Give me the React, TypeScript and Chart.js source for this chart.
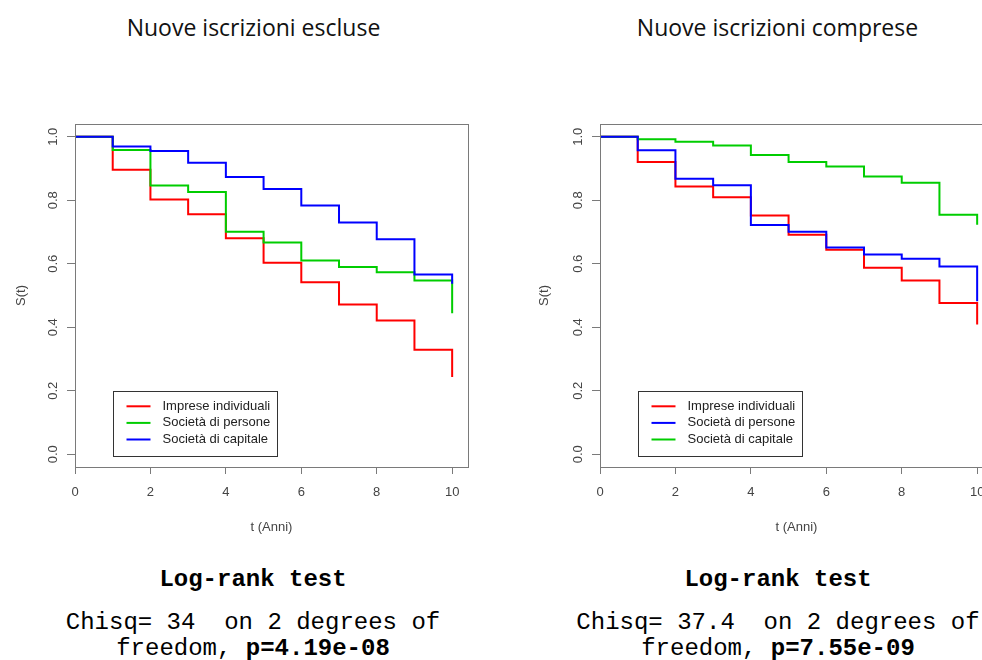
import React, { useEffect, useRef } from "react";
import { Chart, registerables } from "chart.js";

Chart.register(...registerables);

// Survival time grid (years) and Kaplan–Meier step values at each year
const years = [0, 1, 2, 3, 4, 5, 6, 7, 8, 9, 10];

// Nuove iscrizioni escluse
const esclImprese = [1.0, 0.896, 0.802, 0.756, 0.68, 0.603, 0.542, 0.472, 0.421, 0.329, 0.243];
const esclPersone = [1.0, 0.958, 0.846, 0.826, 0.701, 0.667, 0.61, 0.59, 0.573, 0.547, 0.444];
const esclCapitale = [1.0, 0.969, 0.955, 0.918, 0.873, 0.835, 0.783, 0.73, 0.677, 0.566, 0.537];

// Nuove iscrizioni comprese
const compImprese = [1.0, 0.92, 0.843, 0.809, 0.752, 0.691, 0.644, 0.587, 0.547, 0.476, 0.409];
const compPersone = [1.0, 0.957, 0.868, 0.847, 0.722, 0.701, 0.651, 0.629, 0.616, 0.591, 0.482];
const compCapitale = [1.0, 0.992, 0.984, 0.972, 0.942, 0.92, 0.906, 0.875, 0.855, 0.754, 0.723];

const groupLabels = ["Imprese individuali", "Società di persone", "Società di capitale"];
const xTicks = [0, 2, 4, 6, 8, 10];
const yTicks = [0, 0.2, 0.4, 0.6, 0.8, 1.0];

const RED = "#ff0000";
const GREEN = "#00cd00";
const BLUE = "#0000ff";
const AXIS = "#7a7a7a";
const TEXT = "#444444";
const SANS = "'Liberation Sans', Arial, sans-serif";
const MONO = "'Liberation Mono', 'Courier New', monospace";

// Frame around the plotting region plus an R-style boxed legend anchored at (1, 0.2)
const framePlugin = {
  id: "survFrame",
  afterDraw(chart: any) {
    const { ctx, chartArea: a, scales } = chart;
    ctx.save();
    ctx.strokeStyle = AXIS;
    ctx.lineWidth = 1;
    ctx.strokeRect(Math.round(a.left) + 0.5, Math.round(a.top) + 0.5, Math.round(a.right - a.left), Math.round(a.bottom - a.top));

    const bx = Math.round(scales.x.getPixelForValue(1)) + 0.5;
    const by = Math.round(scales.y.getPixelForValue(0.2)) + 0.5;
    ctx.font = `13px ${SANS}`;
    const sets = chart.data.datasets;
    let maxW = 0;
    sets.forEach((d: any) => { maxW = Math.max(maxW, ctx.measureText(d.label).width); });
    const bw = Math.round(49 + maxW + 7);
    const bh = 65;
    ctx.fillStyle = "#ffffff";
    ctx.fillRect(bx, by, bw, bh);
    ctx.strokeStyle = "#333333";
    ctx.strokeRect(bx, by, bw, bh);
    sets.forEach((d: any, i: number) => {
      const cy = by + 14.8 + i * 16.6;
      ctx.strokeStyle = d.borderColor;
      ctx.lineWidth = 2;
      ctx.beginPath();
      ctx.moveTo(bx + 13, cy);
      ctx.lineTo(bx + 37, cy);
      ctx.stroke();
      ctx.fillStyle = "#222222";
      ctx.textBaseline = "middle";
      ctx.textAlign = "left";
      ctx.fillText(d.label, bx + 49, cy);
    });
    ctx.restore();
  },
};

type PanelProps = {
  series: number[][];
  colors: string[];
  order: number[];
  left: number;
  width: number;
  padRight: number;
  yTitlePad: number;
};

function SurvivalPanel({ series, colors, order, left, width, padRight, yTitlePad }: PanelProps) {
  const ref = useRef<HTMLCanvasElement>(null);
  useEffect(() => {
    const chart = new Chart(ref.current as HTMLCanvasElement, {
      type: "line",
      data: {
        datasets: series.map((vals, i) => ({
          label: groupLabels[i],
          data: years.map((t, k) => ({ x: t, y: vals[k] })),
          borderColor: colors[i],
          borderWidth: 2,
          // horizontal run at the current survival level, then drop at the next event time
          stepped: "before",
          pointRadius: 0,
          fill: false,
          order: order[i],
        })),
      },
      options: {
        animation: false,
        responsive: false,
        devicePixelRatio: 1,
        layout: { padding: { top: 24, right: padRight, bottom: 0, left: 0 } },
        plugins: { legend: { display: false }, tooltip: { enabled: false } },
        scales: {
          x: {
            type: "linear",
            min: 0,
            max: 10.42,
            afterBuildTicks: (s: any) => { s.ticks = xTicks.map((v) => ({ value: v })); },
            afterFit: (s: any) => { s.height = 93; },
            grid: { display: true, drawOnChartArea: false, drawTicks: true, tickLength: 7, color: AXIS, lineWidth: 1 },
            border: { display: true, color: AXIS },
            ticks: {
              color: TEXT,
              font: { family: SANS, size: 13 },
              padding: 11,
              maxRotation: 0,
              autoSkip: false,
              callback: (v: any) => String(v),
            },
            title: { display: true, text: "t (Anni)", color: TEXT, font: { family: SANS, size: 13 }, padding: { top: 0, bottom: 25 } },
          },
          y: {
            type: "linear",
            min: -0.04,
            max: 1.04,
            afterBuildTicks: (s: any) => { s.ticks = yTicks.map((v) => ({ value: v })); },
            afterFit: (s: any) => { s.width = 75; },
            grid: { display: true, drawOnChartArea: false, drawTicks: true, tickLength: 8, color: AXIS, lineWidth: 1 },
            border: { display: true, color: AXIS },
            ticks: {
              color: TEXT,
              font: { family: SANS, size: 13 },
              padding: 5,
              minRotation: 90,
              maxRotation: 90,
              crossAlign: "center",
              autoSkip: false,
              callback: (v: any) => Number(v).toFixed(1),
            },
            title: { display: true, text: "S(t)", color: TEXT, font: { family: SANS, size: 13 }, padding: { top: yTitlePad, bottom: 0 } },
          },
        },
      },
      plugins: [framePlugin],
    } as any);
    return () => chart.destroy();
  }, []);
  return (
    <canvas
      ref={ref}
      width={width}
      height={460}
      style={{ position: "absolute", left, top: 100, width, height: 460 }}
    />
  );
}

const titleStyle: React.CSSProperties = {
  position: "absolute",
  top: 12,
  width: 500,
  height: 30,
  lineHeight: "30px",
  textAlign: "center",
  fontFamily: "'Open Sans', Lato, sans-serif",
  fontSize: 23,
  color: "#111",
  whiteSpace: "pre",
};

const monoLine = (cx: number, cy: number): React.CSSProperties => ({
  position: "absolute",
  left: cx - 300,
  top: cy - 13,
  width: 600,
  height: 26,
  lineHeight: "26px",
  textAlign: "center",
  fontFamily: MONO,
  fontSize: 24,
  color: "#000",
  whiteSpace: "pre",
});

function LogRank({ cx, chisq, p }: { cx: number; chisq: string; p: string }) {
  return (
    <>
      <div style={{ ...monoLine(cx, 580), fontWeight: "bold" }}>Log-rank test</div>
      <div style={monoLine(cx, 623)}>{chisq}</div>
      <div style={monoLine(cx, 649)}>
        freedom, <b>{p}</b>
      </div>
    </>
  );
}

export default function App() {
  return (
    <div style={{ position: "fixed", left: 0, top: 0, width: 982, height: 660, overflow: "hidden", background: "#fff" }}>
      <div style={{ ...titleStyle, left: 253.5 - 250 }}>Nuove iscrizioni escluse</div>
      <div style={{ ...titleStyle, left: 777.5 - 250 }}>Nuove iscrizioni comprese</div>

      <SurvivalPanel
        series={[esclImprese, esclPersone, esclCapitale]}
        colors={[RED, GREEN, BLUE]}
        order={[2, 1, 0]}
        left={0}
        width={490}
        padRight={22}
        yTitlePad={14}
      />
      <SurvivalPanel
        series={[compImprese, compPersone, compCapitale]}
        colors={[RED, BLUE, GREEN]}
        order={[2, 0, 1]}
        left={525}
        width={500}
        padRight={32}
        yTitlePad={11.5}
      />

      <LogRank cx={253} chisq="Chisq= 34  on 2 degrees of" p="p=4.19e-08" />
      <LogRank cx={778} chisq="Chisq= 37.4  on 2 degrees of" p="p=7.55e-09" />
    </div>
  );
}
